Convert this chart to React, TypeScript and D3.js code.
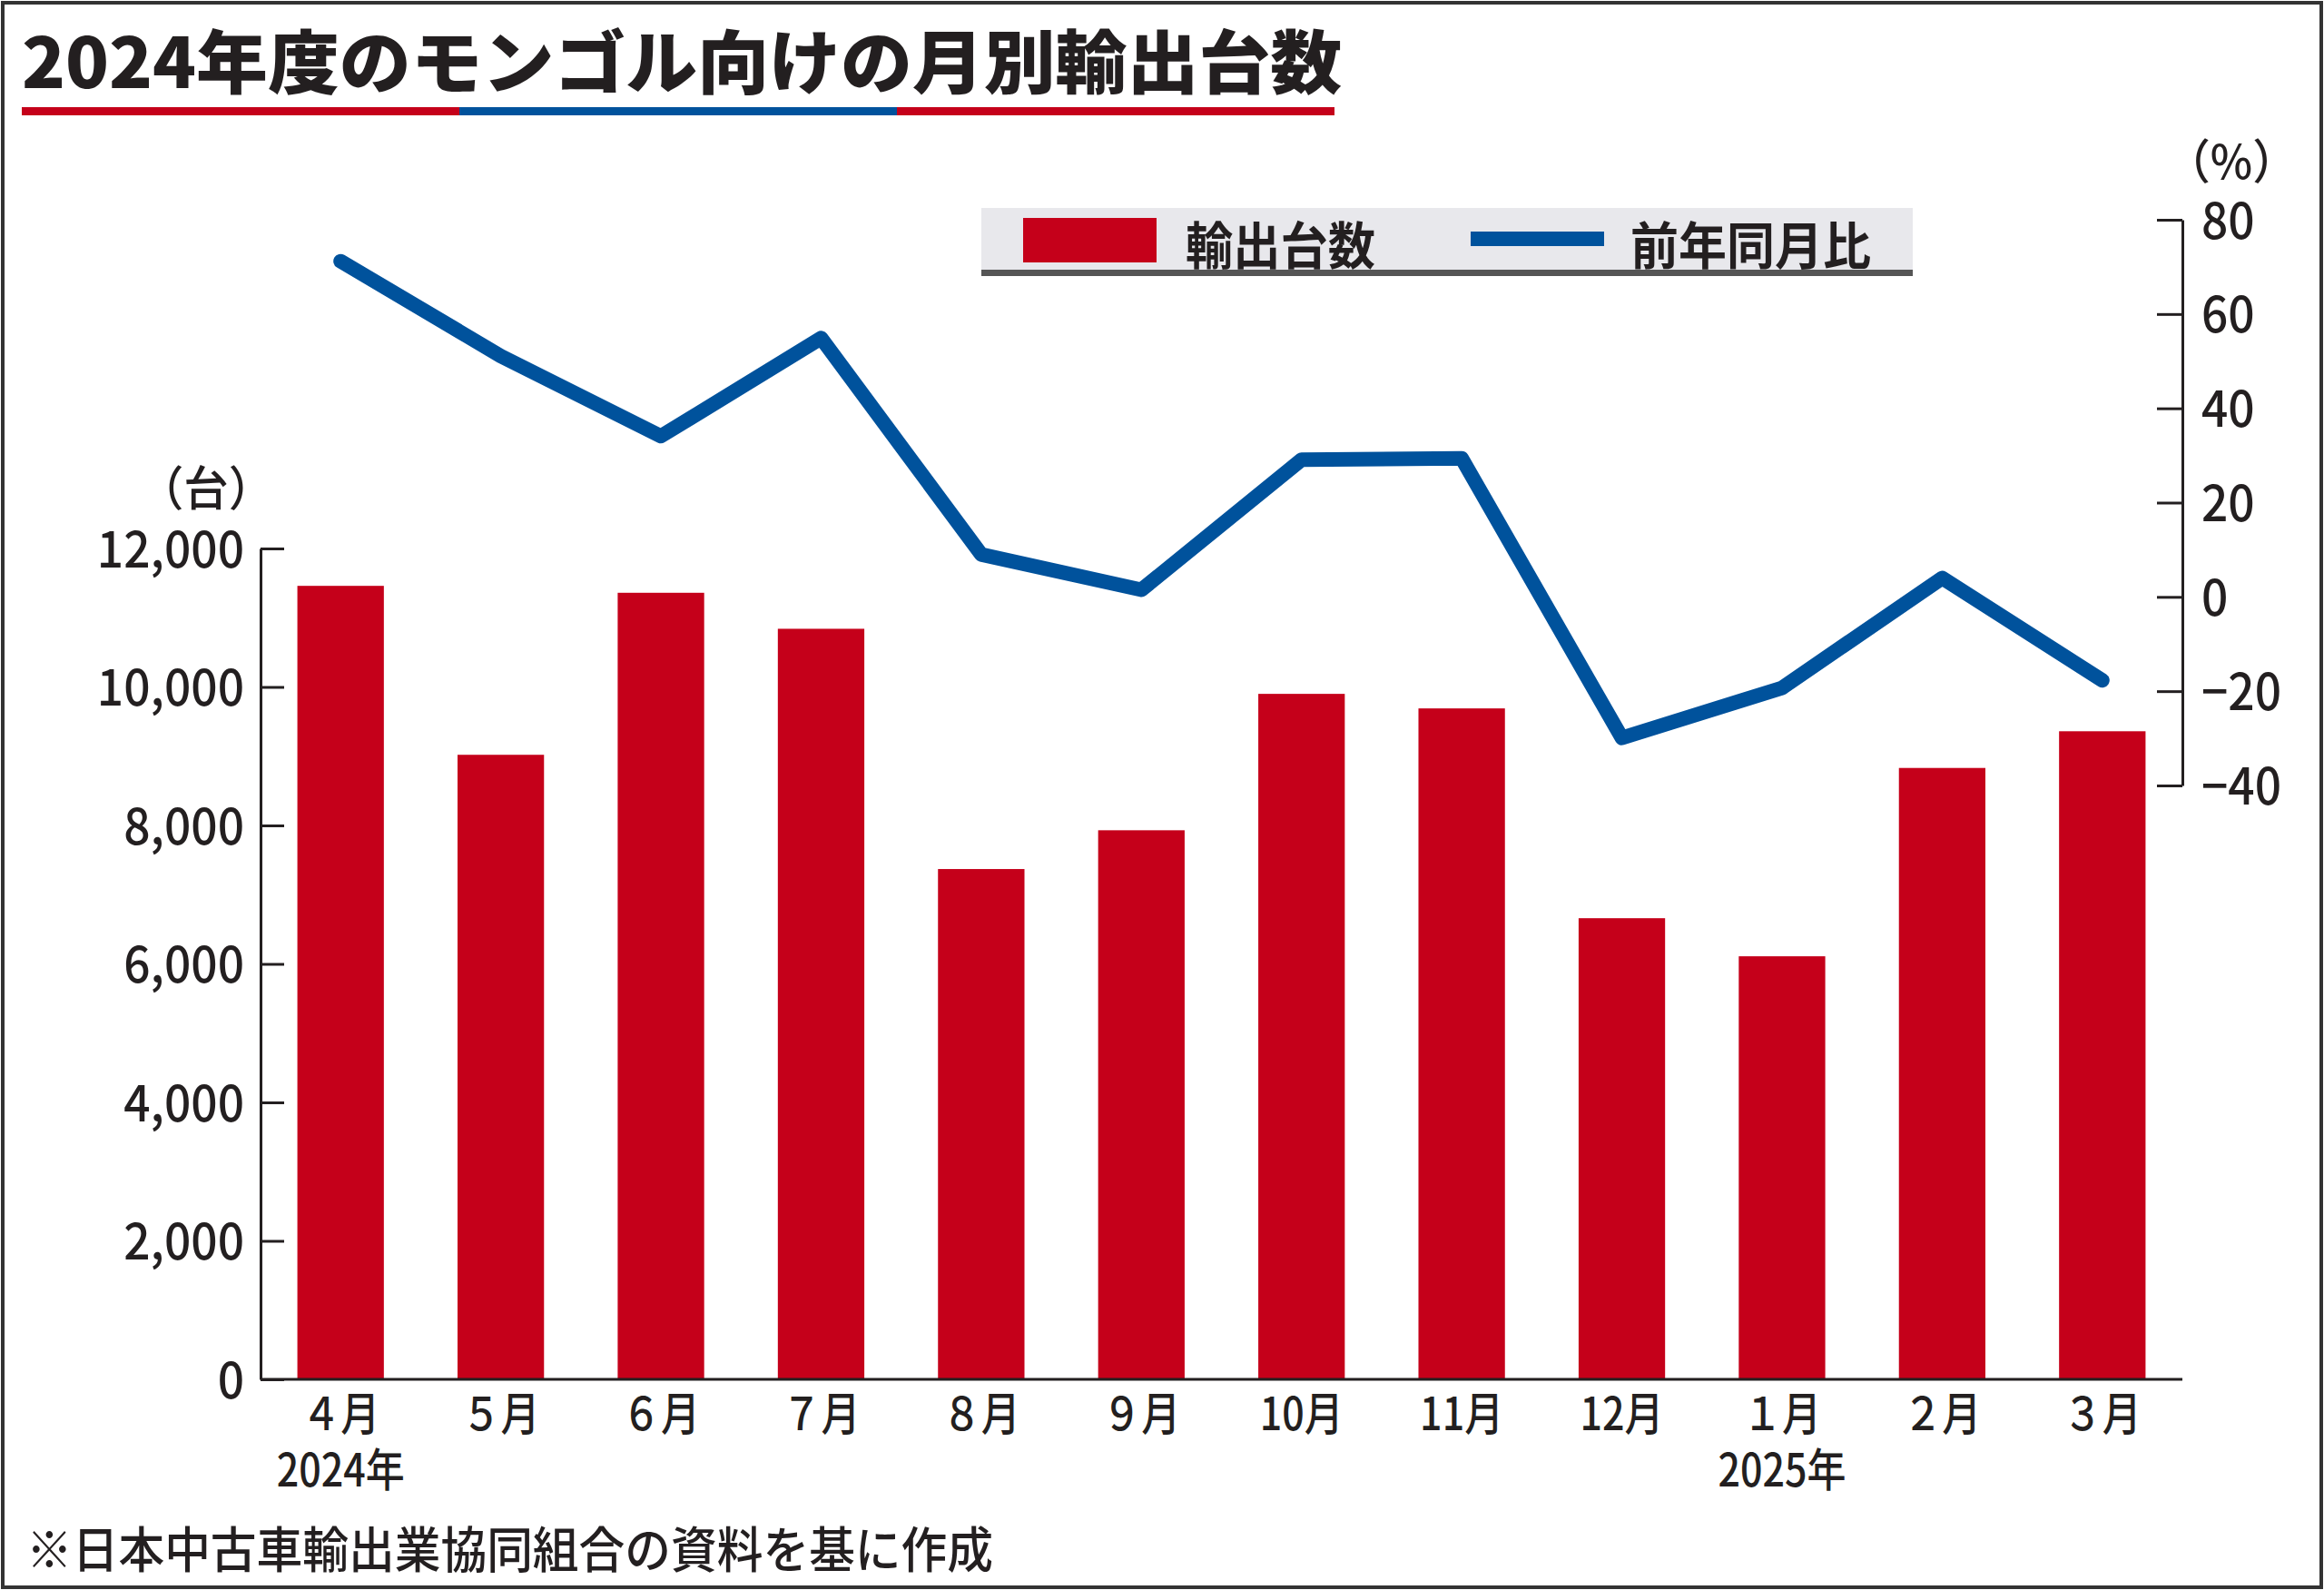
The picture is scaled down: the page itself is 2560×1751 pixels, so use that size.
import { useRef, useEffect } from 'react';
import * as d3 from 'd3';

// 2024年度 モンゴル向け 月別輸出台数
const months = ['４月', '５月', '６月', '７月', '８月', '９月', '10月', '11月', '12月', '１月', '２月', '３月'];
const units = [11460, 9020, 11360, 10840, 7370, 7930, 9900, 9690, 6660, 6110, 8830, 9360];
const yoy = [71.2, 51.1, 34.1, 54.9, 9.0, 1.5, 29.1, 29.4, -29.9, -19.3, 4.0, -17.7];
const yearLabels = [
    { at: '４月', text: '2024年' },
    { at: '１月', text: '2025年' },
];
const leftTicks = [0, 2000, 4000, 6000, 8000, 10000, 12000];
const rightTicks = [-40, -20, 0, 20, 40, 60, 80];

const W = 2560;
const H = 1751;
const RED = '#c5001a';
const BLUE = '#00529c';
const INK = '#231f20';
const FONT = '"Noto Sans CJK JP", "Noto Sans", sans-serif';
const SQ = 0.86; // horizontal condensing of the gothic face
const TICK_SQ = 0.92;

const plot = { left: 287, right: 2404, top: 604, bottom: 1519 };
const pctTop = 242;
const pctBottom = 865;

const x = d3.scaleBand<string>()
    .domain(months)
    .range([plot.left, plot.right])
    .paddingInner(0.46)
    .paddingOuter(0.23);

const yUnits = d3.scaleLinear().domain([0, 12000]).range([plot.bottom, plot.top]);
const yPct = d3.scaleLinear().domain([-40, 80]).range([pctBottom, pctTop]);

const fmt = (v: number) => d3.format(',')(v);
const fmtPct = (v: number) => (v < 0 ? '−' + Math.abs(v) : String(v));

function Condensed({ cx, cy, anchor = 'middle', size, weight = 500, sq = SQ, children }: any) {
    return (
        <text
            transform={`translate(${cx},${cy}) scale(${sq},1)`}
            textAnchor={anchor}
            dominantBaseline="central"
            fontSize={size}
            fontWeight={weight}
            fill={INK}
        >
            {children}
        </text>
    );
}

export default function App() {
    const leftRef = useRef<SVGGElement>(null);
    const rightRef = useRef<SVGGElement>(null);

    useEffect(() => {
        document.body.style.margin = '0';
        if (!leftRef.current || !rightRef.current) return;

        const styleAxis = (g: d3.Selection<SVGGElement, unknown, null, undefined>, anchor: string, dx: number) => {
            g.select('.domain').attr('stroke', INK).attr('stroke-width', 3);
            g.selectAll('.tick line').attr('stroke', INK).attr('stroke-width', 3);
            g.selectAll<SVGTextElement, number>('.tick text')
                .attr('x', dx / TICK_SQ)
                .attr('dy', '0.36em')
                .attr('transform', `scale(${TICK_SQ},1)`)
                .attr('text-anchor', anchor)
                .attr('font-family', FONT)
                .attr('font-size', 56)
                .attr('font-weight', 500)
                .attr('fill', INK);
        };

        const left = d3.select(leftRef.current);
        left.selectAll('*').remove();
        left.attr('transform', `translate(${plot.left},0)`)
            .call(d3.axisLeft(yUnits).tickValues(leftTicks).tickFormat(d => fmt(+d))
                .tickSizeInner(-26).tickSizeOuter(0).tickPadding(18));
        styleAxis(left, 'end', -18);

        const right = d3.select(rightRef.current);
        right.selectAll('*').remove();
        right.attr('transform', `translate(${plot.right},0)`)
            .call(d3.axisRight(yPct).tickValues(rightTicks).tickFormat(d => fmtPct(+d))
                .tickSizeInner(-28).tickSizeOuter(0).tickPadding(21));
        styleAxis(right, 'start', 21);
    }, []);

    const line = d3.line<number>()
        .x((_, i) => (x(months[i]) ?? 0) + x.bandwidth() / 2)
        .y(d => yPct(d));

    const third = (1470 - 24) / 3;

    return (
        <div style={{ position: 'absolute', left: 0, top: 0, width: W, height: H, background: '#fff' }}>
            <svg width={W} height={H} fontFamily={FONT} style={{ display: 'block' }}>
                <rect x={3} y={3} width={W - 6} height={H - 6} fill="#fff" stroke="#333" strokeWidth={4} />

                {/* Title */}
                <text x={24} y={97} fontSize={76} fontWeight={900} fill={INK}
                    textLength={1454} lengthAdjust="spacingAndGlyphs">
                    2024年度のモンゴル向けの月別輸出台数
                </text>
                <rect x={24} y={118} width={third} height={9} fill={RED} />
                <rect x={24 + third} y={118} width={third} height={9} fill={BLUE} />
                <rect x={24 + third * 2} y={118} width={third} height={9} fill={RED} />

                {/* Legend */}
                <rect x={1081} y={229} width={1026} height={75} fill="#e8e8ec" />
                <rect x={1081} y={297} width={1026} height={7} fill="#555" />
                <rect x={1127} y={240} width={147} height={49} fill={RED} />
                <text x={1306} y={266} dominantBaseline="central" fontSize={56} fontWeight={700} fill={INK}
                    textLength={209} lengthAdjust="spacingAndGlyphs">輸出台数</text>
                <rect x={1620} y={255} width={147} height={16} fill={BLUE} />
                <text x={1796} y={266} dominantBaseline="central" fontSize={56} fontWeight={700} fill={INK}
                    textLength={265} lengthAdjust="spacingAndGlyphs">前年同月比</text>

                {/* Unit labels */}
                <Condensed cx={227} cy={534} size={52} sq={0.95}>（台）</Condensed>
                <Condensed cx={2458} cy={174} size={52} sq={0.95}>（%）</Condensed>

                {/* Bars */}
                {units.map((v, i) => (
                    <rect key={months[i]}
                        x={x(months[i])}
                        y={yUnits(v)}
                        width={x.bandwidth()}
                        height={yUnits(0) - yUnits(v)}
                        fill={RED} />
                ))}

                {/* Axes */}
                <g ref={leftRef} />
                <g ref={rightRef} />
                <line x1={plot.left} x2={plot.right} y1={plot.bottom} y2={plot.bottom} stroke={INK} strokeWidth={3} />

                {/* YoY line */}
                <path d={line(yoy) ?? ''} fill="none" stroke={BLUE} strokeWidth={16}
                    strokeLinejoin="round" strokeLinecap="round" />

                {/* Month labels */}
                {months.map(m => (
                    <Condensed key={m} cx={(x(m) ?? 0) + x.bandwidth() / 2} cy={1553} size={50}>{m}</Condensed>
                ))}
                {yearLabels.map(y => (
                    <Condensed key={y.text} cx={(x(y.at) ?? 0) + x.bandwidth() / 2} cy={1615} size={50}>{y.text}</Condensed>
                ))}

                {/* Source */}
                <text x={29} y={1703} dominantBaseline="central" fontSize={54} fontWeight={500} fill={INK}
                    textLength={1065} lengthAdjust="spacingAndGlyphs">
                    ※日本中古車輸出業協同組合の資料を基に作成
                </text>
            </svg>
        </div>
    );
}
